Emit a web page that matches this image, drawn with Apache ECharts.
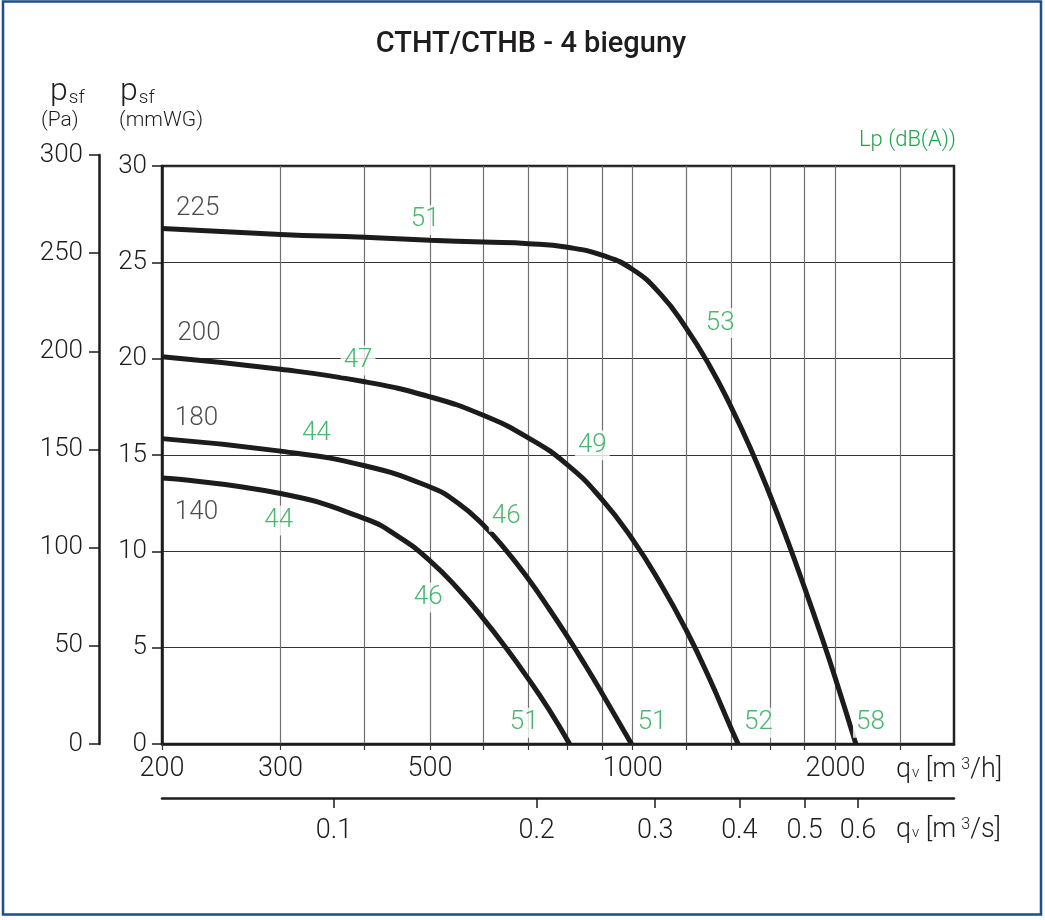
<!DOCTYPE html>
<html>
<head>
<meta charset="utf-8">
<title>CTHT/CTHB - 4 bieguny</title>
<script src="https://cdn.jsdelivr.net/npm/echarts@6/dist/echarts.min.js"></script>
<style>
    html, body { margin: 0; padding: 0; background: #fff; }
    #chart { width: 1045px; height: 920px; }
</style>
</head>
<body>
<div id="chart"></div>
<script>
// fan curves: airflow qv [m3/h], static pressure psf [mmWG]
const CURVE_225 = [[200, 26.75], [300, 26.45], [400, 26.3], [500, 26.15], [600, 26.05], [700, 25.97], [800, 25.78],
    [900, 25.37], [1000, 24.63], [1100, 23.35], [1200, 21.6], [1300, 19.65], [1400, 17.5], [1500, 15.25], [1600, 12.9],
    [1700, 10.5], [1800, 8.1], [1900, 5.75], [2000, 3.4], [2145, 0]];
const CURVE_200 = [[200, 20.1], [300, 19.45], [400, 18.8], [500, 18.02], [600, 17.06], [700, 15.89], [800, 14.49],
    [900, 12.7], [1000, 10.61], [1100, 8.32], [1200, 5.93], [1300, 3.4], [1400, 0.8], [1434, 0]];
const CURVE_180 = [[200, 15.85], [300, 15.2], [400, 14.44], [500, 13.34], [550, 12.51], [600, 11.37], [650, 10.01],
    [700, 8.56], [750, 7.06], [800, 5.57], [850, 4.1], [900, 2.65], [996, 0]];
const CURVE_140 = [[200, 13.8], [300, 13.0], [400, 11.7], [450, 10.74], [500, 9.51], [550, 8.06], [600, 6.51],
    [650, 4.94], [700, 3.38], [750, 1.82], [806, 0]];

const CURVES = [CURVE_225, CURVE_200, CURVE_180, CURVE_140];
const CURVE_NAMES = ['225', '200', '180', '140'];
const CURVE_NAME_POS = [[226, 27.8], [227, 21.3], [225, 16.9], [225, 12.0]];

// sound pressure level labels Lp dB(A)
const LP_TEXT = ['51', '53', '47', '44', '44', '49', '46', '46', '51', '51', '52', '58'];
const LP_POS = [[492, 27.2], [1349, 21.85], [391, 19.9], [339, 16.1], [298, 11.6], [871, 15.5],
    [649, 11.8], [497, 7.6], [690, 1.1], [1069, 1.1], [1537, 1.1], [2254, 1.1]];

// axes
const Q_MIN = 200, Q_MAX = 3000;
const Q_GRID = [200, 300, 400, 500, 600, 700, 800, 900, 1000, 1200, 1400, 1600, 1800, 2000, 2500];
const Q_LABELS = [200, 300, 500, 1000, 2000];
const QS_LABELS = [0.1, 0.2, 0.3, 0.4, 0.5, 0.6];
const MMWG_MAX = 30, MMWG_STEP = 5;
const PA_MAX = 300, PA_STEP = 50;

const FONT = 'Roboto, "DejaVu Sans", sans-serif';
const TXT = '#1f1c1d';
const GREEN = '#1aa64b';

const chart = echarts.init(document.getElementById('chart'));

const curveSeries = CURVES.map((data, i) => ({
    name: CURVE_NAMES[i],
    type: 'line',
    xAxisIndex: 0, yAxisIndex: 0,
    data: data,
    symbol: 'none',
    smooth: 0.5,
    lineStyle: { color: '#1d1b1b', width: 5 },
    z: 3
}));

const unitRich = {
    a: { fontSize: 27, fontWeight: 300, fill: TXT, fontFamily: FONT },
    b: { fontSize: 15, fontWeight: 300, fill: TXT, fontFamily: FONT, verticalAlign: 'bottom', padding: [0, 0, 3, 1] },
    c: { fontSize: 16, fontWeight: 300, fill: TXT, fontFamily: FONT, verticalAlign: 'top', padding: [0, 0, 0, 5] }
};
const psfRich = {
    p: { fontSize: 32, fontWeight: 300, fill: TXT, fontFamily: FONT },
    s: { fontSize: 19, fontWeight: 300, fill: TXT, fontFamily: FONT, verticalAlign: 'bottom', padding: [0, 0, 0, 1] }
};

chart.setOption({
    animation: false,
    backgroundColor: '#fff',
    textStyle: { fontFamily: FONT },
    grid: [
        { left: 162, top: 166, width: 792, height: 578, show: true, borderColor: '#222', borderWidth: 2.5, backgroundColor: 'transparent' },
        { left: 162, top: 797, width: 792, height: 1 },
        { left: 99, top: 155, width: 1, height: 589 }
    ],
    xAxis: [
        {
            type: 'log', gridIndex: 0, min: Q_MIN, max: Q_MAX, logBase: 10,
            axisLine: { lineStyle: { color: '#1d1b1b', width: 2.5 } },
            axisTick: { show: true, customValues: Q_GRID, length: 6, lineStyle: { color: '#333', width: 1.2 } },
            axisLabel: { customValues: Q_LABELS, formatter: v => String(v), margin: 12, fontSize: 27, fontWeight: 300, color: TXT, fontFamily: FONT },
            splitLine: { show: true, lineStyle: { color: '#707070', width: 1.2 } },
            minorTick: { show: false }, minorSplitLine: { show: false }
        },
        {
            type: 'log', gridIndex: 1, min: Q_MIN / 3600, max: Q_MAX / 3600, logBase: 10,
            axisLine: { lineStyle: { color: '#1d1b1b', width: 2.5 } },
            axisTick: { show: true, customValues: QS_LABELS, length: 10, lineStyle: { color: '#1d1b1b', width: 1.5 } },
            axisLabel: { customValues: QS_LABELS, formatter: v => String(v), margin: 20, fontSize: 27, fontWeight: 300, color: TXT, fontFamily: FONT },
            splitLine: { show: false }
        },
        { type: 'value', gridIndex: 2, show: false }
    ],
    yAxis: [
        {
            type: 'value', gridIndex: 0, min: 0, max: MMWG_MAX, interval: MMWG_STEP,
            axisLine: { show: true, lineStyle: { color: '#1d1b1b', width: 2.5 } },
            axisTick: { show: true, length: 10, lineStyle: { color: '#1d1b1b', width: 1.5 } },
            axisLabel: { margin: 15, fontSize: 26, fontWeight: 300, color: TXT, fontFamily: FONT },
            splitLine: { show: true, lineStyle: { color: '#333', width: 1.2 } }
        },
        {
            type: 'value', gridIndex: 2, min: 0, max: PA_MAX, interval: PA_STEP,
            axisLine: { show: true, lineStyle: { color: '#1d1b1b', width: 2.5 } },
            axisTick: { show: true, length: 10, lineStyle: { color: '#1d1b1b', width: 1.5 } },
            axisLabel: { margin: 16, fontSize: 26, fontWeight: 300, color: TXT, fontFamily: FONT },
            splitLine: { show: false }
        },
        { type: 'value', gridIndex: 1, show: false }
    ],
    series: [
        ...curveSeries,
        {
            type: 'scatter', xAxisIndex: 0, yAxisIndex: 0,
            data: CURVE_NAME_POS.map((p, i) => ({ name: CURVE_NAMES[i], value: p })),
            symbolSize: 1, itemStyle: { color: 'transparent' },
            label: { show: true, position: 'inside', formatter: '{b}', fontSize: 26, fontWeight: 300, color: TXT, fontFamily: FONT },
            z: 4
        },
        {
            type: 'scatter', xAxisIndex: 0, yAxisIndex: 0,
            data: LP_POS.map((p, i) => ({ name: LP_TEXT[i], value: p })),
            symbolSize: 1, itemStyle: { color: 'transparent' },
            label: {
                show: true, position: 'inside', formatter: '{b}', fontSize: 26, fontWeight: 300,
                color: GREEN, fontFamily: FONT, backgroundColor: '#fff', padding: [2, 3]
            },
            z: 5
        }
    ],
    graphic: [
        { type: 'rect', shape: { x: 3, y: 1.5, width: 1038, height: 913 }, style: { fill: 'none', stroke: '#1f4e86', lineWidth: 2.5 }, silent: true },
        { type: 'text', x: 531, y: 45, style: { text: 'CTHT/CTHB - 4 bieguny', fontSize: 29, fontWeight: 500, fill: TXT, fontFamily: FONT, align: 'center', verticalAlign: 'middle' } },
        { type: 'text', x: 50, y: 92, style: { text: '{p|p}{s|sf}', rich: psfRich, verticalAlign: 'middle' } },
        { type: 'text', x: 41, y: 121, style: { text: '(Pa)', fontSize: 21, fontWeight: 300, fill: TXT, fontFamily: FONT, verticalAlign: 'middle' } },
        { type: 'text', x: 120, y: 92, style: { text: '{p|p}{s|sf}', rich: psfRich, verticalAlign: 'middle' } },
        { type: 'text', x: 119, y: 121, style: { text: '(mmWG)', fontSize: 21, fontWeight: 300, fill: TXT, fontFamily: FONT, verticalAlign: 'middle' } },
        { type: 'text', x: 956, y: 140, style: { text: 'Lp (dB(A))', fontSize: 22, fontWeight: 300, fill: GREEN, fontFamily: FONT, align: 'right', verticalAlign: 'middle' } },
        { type: 'text', x: 896, y: 770, style: { text: '{a|q}{b|v}{a| [m}{c|3}{a|/h]}', rich: unitRich, verticalAlign: 'middle' } },
        { type: 'text', x: 896, y: 830, style: { text: '{a|q}{b|v}{a| [m}{c|3}{a|/s]}', rich: unitRich, verticalAlign: 'middle' } }
    ]
});
</script>
</body>
</html>
